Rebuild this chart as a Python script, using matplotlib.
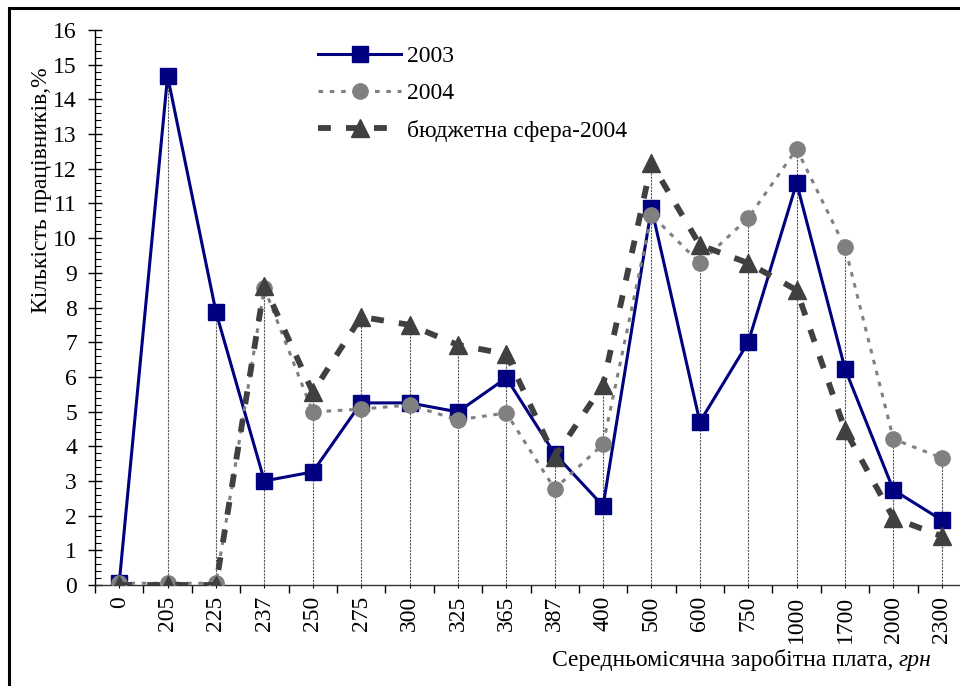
import numpy as np
import matplotlib
matplotlib.use('Agg')
import matplotlib.pyplot as plt
from matplotlib.patches import Rectangle
from matplotlib.ticker import MultipleLocator, FixedLocator

plt.rcParams['font.family'] = ['Liberation Serif', 'DejaVu Serif']

# середньомісячна заробітна плата, грн
categories = ['0', '205', '225', '237', '250', '275', '300', '325', '365',
              '387', '400', '500', '600', '750', '1000', '1700', '2000', '2300']

y2003 = [0.05, 14.67, 7.87, 3.0, 3.26, 5.25, 5.25, 4.99, 5.97,
         3.78, 2.28, 10.87, 4.7, 7.0, 11.59, 6.23, 2.74, 1.87]
y2004 = [0.05, 0.05, 0.05, 8.56, 4.99, 5.07, 5.19, 4.76, 4.96,
         2.77, 4.06, 10.67, 9.28, 10.58, 12.57, 9.74, 4.21, 3.66]
budget2004 = [0.0, 0.0, 0.0, 8.62, 5.56, 7.73, 7.5, 6.92, 6.66,
              3.69, 5.77, 12.16, 9.8, 9.28, 8.5, 4.47, 1.93, 1.41]

FS = 17

W, H = 960, 686
fig = plt.figure(figsize=(W / 100, H / 100), dpi=100)
ax = fig.add_axes([95 / W, (H - 585) / H, 871 / W, 555 / H])

x = np.arange(len(categories))

# drop lines
tops = np.maximum(np.maximum(y2003, y2004), budget2004)
ax.vlines(x[1:], 0, tops[1:], color='#555555', lw=0.8,
          linestyle=(0, (2, 1)), zorder=1)

ax.plot(x, y2003, color='#000080', lw=2.2, marker='s', markersize=11,
        markerfacecolor='#000080', markeredgecolor='#000080',
        label='2003', zorder=3)
ax.plot(x, y2004, color='#808080', lw=2.2, linestyle=(0, (1.5, 2.2)),
        marker='o', markersize=11, markerfacecolor='#808080',
        markeredgecolor='#808080', label='2004', zorder=4)
ax.plot(x, budget2004, color='#404040', lw=4.2, linestyle=(0, (2.2, 2.6)),
        marker='^', markersize=13, markerfacecolor='#404040',
        markeredgecolor='#404040', label='бюджетна сфера-2004', zorder=5)

ax.set_xlim(-0.5, len(categories) - 0.5)
ax.set_ylim(0, 16)

ax.spines['top'].set_visible(False)
ax.spines['right'].set_visible(False)
ax.spines['left'].set_linewidth(1.0)
ax.spines['bottom'].set_linewidth(1.0)
ax.spines['bottom'].set_color('#333333')

ax.yaxis.set_major_locator(MultipleLocator(1))
ax.yaxis.set_minor_locator(MultipleLocator(0.2))
ax.tick_params(axis='y', which='major', direction='inout', length=10,
               width=1, labelsize=FS, pad=8)
ax.tick_params(axis='y', which='minor', direction='in', length=4, width=0.8)

ax.set_xticks(x)
ax.set_xticklabels(categories, rotation=90)
ax.xaxis.set_minor_locator(FixedLocator(np.arange(-0.5, len(categories), 1)))
ax.tick_params(axis='x', which='major', direction='out', length=2,
               width=0.8, labelsize=FS, pad=6)
ax.tick_params(axis='x', which='minor', direction='out', length=6, width=1)

fig.text(42 / W, 1 - 190 / H, 'Кількість працівників,%', rotation=90,
         ha='center', va='center', fontsize=FS)

t1 = fig.text(552 / W, 1 - 671 / H, 'Середньомісячна заробітна плата,',
              ha='left', va='bottom', fontsize=FS)
ax.annotate('грн', xy=(1, 0), xycoords=t1, xytext=(4, 0),
            textcoords='offset points', ha='left', va='bottom',
            fontsize=FS, fontstyle='italic')

ax.legend(loc='upper left', bbox_to_anchor=(309 / W, 1 - 36 / H),
          bbox_transform=fig.transFigure, frameon=False, fontsize=FS,
          handlelength=3.5, handletextpad=0.25, labelspacing=0.66,
          borderaxespad=0)

fig.patches.append(Rectangle((9 / W, -0.05), 1.2, (H - 8) / H + 0.05,
                             transform=fig.transFigure, fill=False,
                             lw=2.2, ec='black', clip_on=False))

fig.savefig('out.png', dpi=100)
